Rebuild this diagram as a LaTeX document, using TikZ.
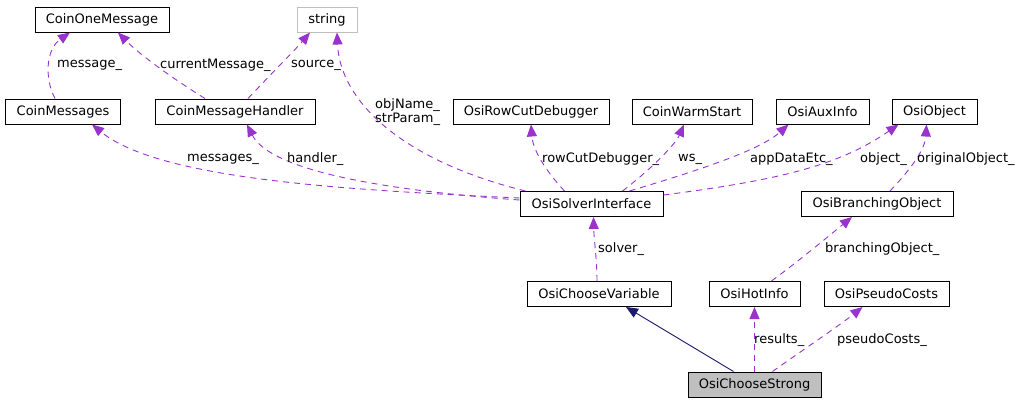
\documentclass[tikz,border=0pt]{standalone}
\usepackage{fontspec}
\setmainfont{DejaVu Sans}
\usetikzlibrary{arrows.meta}
\definecolor{usecol}{RGB}{154,50,205}
\definecolor{inhcol}{RGB}{25,25,112}
\definecolor{boxgray}{RGB}{191,191,191}
\tikzset{
  cls/.style={draw,rectangle,line width=1pt,minimum height=25pt,inner sep=0pt,font=\fontsize{13}{14}\selectfont},
  usearrow/.style={usecol,line width=0.9pt,dash pattern=on 6pt off 5pt,-{Triangle[length=12pt,width=10pt]}},
  inherit/.style={inhcol,line width=0.9pt,-{Triangle[length=12pt,width=10pt]}},
  lbl/.style={anchor=west,inner sep=0pt,font=\fontsize{13}{14}\selectfont,align=left}
}
\begin{document}
\begin{tikzpicture}[x=1pt,y=-1pt]
            \useasboundingbox (0,0) rectangle (1021,402);
            % classes
            \node[cls,minimum width=134pt] (oneMsg) at (102,19.5){CoinOneMessage};
            \node[cls,draw=boxgray,minimum width=60pt] (str) at (327,19.5){string};
            \node[cls,minimum width=115pt] (msgs) at (63,111.5){CoinMessages};
            \node[cls,minimum width=160pt] (handler) at (235,111.5){CoinMessageHandler};
            \node[cls,minimum width=156pt] (rcDebug) at (531,111.5){OsiRowCutDebugger};
            \node[cls,minimum width=120pt] (warm) at (692,111.5){CoinWarmStart};
            \node[cls,minimum width=93pt] (aux) at (822.5,111.5){OsiAuxInfo};
            \node[cls,minimum width=85pt] (obj) at (934.5,111.5){OsiObject};
            \node[cls,minimum width=143pt] (solver) at (591.5,204){OsiSolverInterface};
            \node[cls,minimum width=152pt] (branch) at (877,204){OsiBranchingObject};
            \node[cls,minimum width=144pt] (chooseVar) at (599,294){OsiChooseVariable};
            \node[cls,minimum width=91pt] (hot) at (754.5,294){OsiHotInfo};
            \node[cls,minimum width=125pt] (pseudo) at (886.5,294){OsiPseudoCosts};
            \node[cls,fill=boxgray,minimum width=133pt] (strong) at (754.5,384.5){OsiChooseStrong};
            % usage edges
            \draw[usearrow] ([xshift=-8pt]msgs.north) .. controls (45,80) and (45,50) .. ([xshift=-32pt]oneMsg.south);
            \draw[usearrow] ([xshift=-30pt]handler.north) .. controls (175,80) and (140,55) .. ([xshift=16pt]oneMsg.south);
            \draw[usearrow] ([xshift=13pt]handler.north) .. controls (270,75) and (295,50) .. ([xshift=-17pt]str.south);
            \draw[usearrow] ([xshift=-66pt]solver.north) .. controls (400,160) and (340,100) .. ([xshift=10pt]str.south);
            \draw[usearrow] ([yshift=6pt]solver.west) .. controls (350,190) and (160,180) .. ([xshift=29pt]msgs.south);
            \draw[usearrow] ([yshift=4pt]solver.west) .. controls (380,190) and (270,170) .. ([xshift=12pt]handler.south);
            \draw[usearrow] ([xshift=-27pt]solver.north) .. controls (545,170) and (533,150) .. (rcDebug.south);
            \draw[usearrow] ([xshift=31pt]solver.north) .. controls (650,170) and (675,145) .. ([xshift=-8pt]warm.south);
            \draw[usearrow] ([xshift=38pt]solver.north) .. controls (700,170) and (760,150) .. ([xshift=-34pt]aux.south);
            \draw[usearrow] ([yshift=9pt]solver.east) .. controls (780,180) and (840,165) .. ([xshift=-36pt]obj.south);
            \draw[usearrow] ([xshift=13pt]branch.north) .. controls (910,170) and (925,150) .. ([xshift=-8pt]obj.south);
            \draw[usearrow] ([xshift=-2pt]chooseVar.north) .. controls (597,260) and (594,240) .. ([xshift=2pt]solver.south);
            \draw[usearrow] ([xshift=17pt]hot.north) .. controls (800,260) and (830,235) .. ([xshift=-25pt]branch.south);
            \draw[usearrow] (strong.north) -- (hot.south);
            \draw[usearrow] ([xshift=18pt]strong.north) .. controls (810,345) and (840,325) .. ([xshift=-24pt]pseudo.south);
            % inheritance
            \draw[inherit] ([xshift=-21pt]strong.north) -- ([xshift=27pt]chooseVar.south);
            % labels
            \node[lbl] (lMessage) at (57,65){message\_};
            \node[lbl] (lCurrent) at (160,65){currentMessage\_};
            \node[lbl] (lSource) at (291,65){source\_};
            \node[lbl] (lObjName) at (375,112){objName\_\\strParam\_};
            \node[lbl] (lMessages) at (187,159){messages\_};
            \node[lbl] (lHandler) at (287,159){handler\_};
            \node[lbl] (lRowCut) at (542,159){rowCutDebugger\_};
            \node[lbl] (lWs) at (678,159){ws\_};
            \node[lbl] (lAppData) at (750,159){appDataEtc\_};
            \node[lbl] (lObject) at (860,159){object\_};
            \node[lbl] (lOrig) at (917,159){originalObject\_};
            \node[lbl] (lSolver) at (598,249){solver\_};
            \node[lbl] (lBranch) at (825,249){branchingObject\_};
            \node[lbl] (lResults) at (754,340){results\_};
            \node[lbl] (lPseudo) at (837,340){pseudoCosts\_};
\end{tikzpicture}
\end{document}
